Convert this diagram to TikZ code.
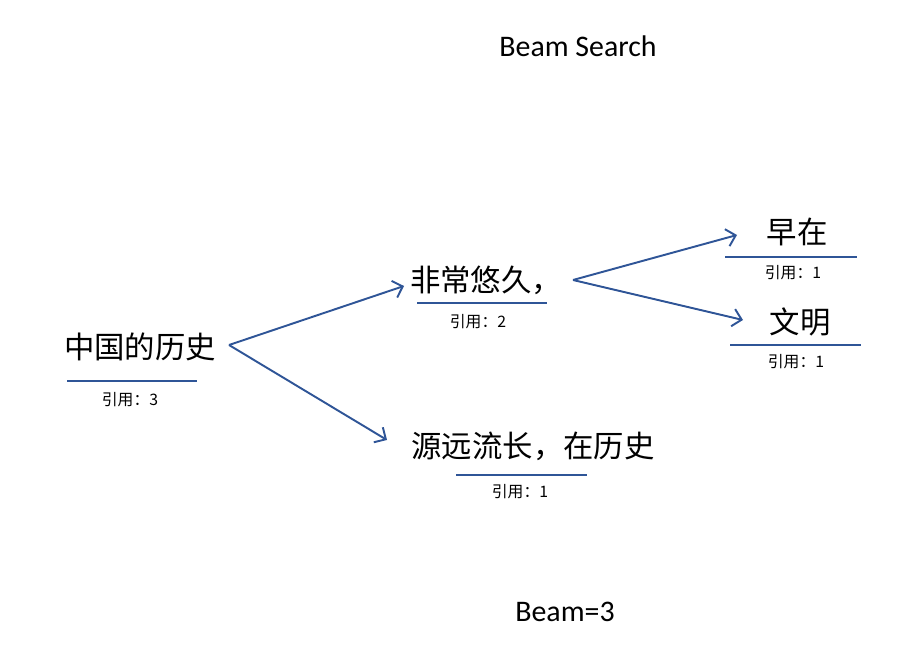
\documentclass[tikz,border=0pt]{standalone}
\usepackage{fontspec}
\setmainfont{Carlito}
\newfontfamily\cjk{Noto Sans CJK SC}
\usetikzlibrary{arrows.meta}
\definecolor{beamblue}{RGB}{47,85,151}

\begin{document}
\begin{tikzpicture}
    [
        x = 0.02cm, y = -0.02cm,
        word/.style   = {font=\cjk\fontsize{17.3}{20}\selectfont, inner sep=0pt},
        cite/.style   = {font=\cjk\fontsize{9}{11}\selectfont, inner sep=0pt},
        uline/.style  = {draw=beamblue, line width=1.1pt},
        branch/.style = {draw=beamblue, line width=1.1pt,
                         -{Straight Barb[length=5pt,width=10pt]}}
    ]
    \useasboundingbox (0,0) rectangle (922,671);

    \node (title) at (578,46) {\fontsize{17}{20}\selectfont Beam Search};
    \node (beam)  at (565,612) {\fontsize{17}{20}\selectfont Beam=3};

    % candidates
    \node[word] (root)  at (140,347) {中国的历史};
    \node[word] (feich) at (486,280) {非常悠久，};
    \node[word] (yuan)  at (533,446) {源远流长，在历史};
    \node[word] (zao)   at (797,232) {早在};
    \node[word] (wen)   at (800,322) {文明};

    \draw[uline] (67,381)  -- (197,381);
    \draw[uline] (417,303) -- (547,303);
    \draw[uline] (456,475) -- (587,475);
    \draw[uline] (725,257) -- (857,257);
    \draw[uline] (730,345) -- (861,345);

    \node[cite] (rootc)  at (130,400) {引用：3};
    \node[cite] (feichc) at (478,322) {引用：2};
    \node[cite] (yuanc)  at (520,492) {引用：1};
    \node[cite] (zaoc)   at (793,273) {引用：1};
    \node[cite] (wenc)   at (796,362) {引用：1};

    % branches
    \coordinate (rootout)  at (229,345);
    \coordinate (feichin)  at (404,286);
    \coordinate (yuanin)   at (387,440);
    \coordinate (feichout) at (573,280);
    \coordinate (zaoin)    at (737,235);
    \coordinate (wenin)    at (743,320);

    \draw[branch] (rootout) -- (feichin);
    \draw[branch] (rootout) -- (yuanin);
    \draw[branch] (feichout) -- (zaoin);
    \draw[branch] (feichout) -- (wenin);
\end{tikzpicture}
\end{document}
